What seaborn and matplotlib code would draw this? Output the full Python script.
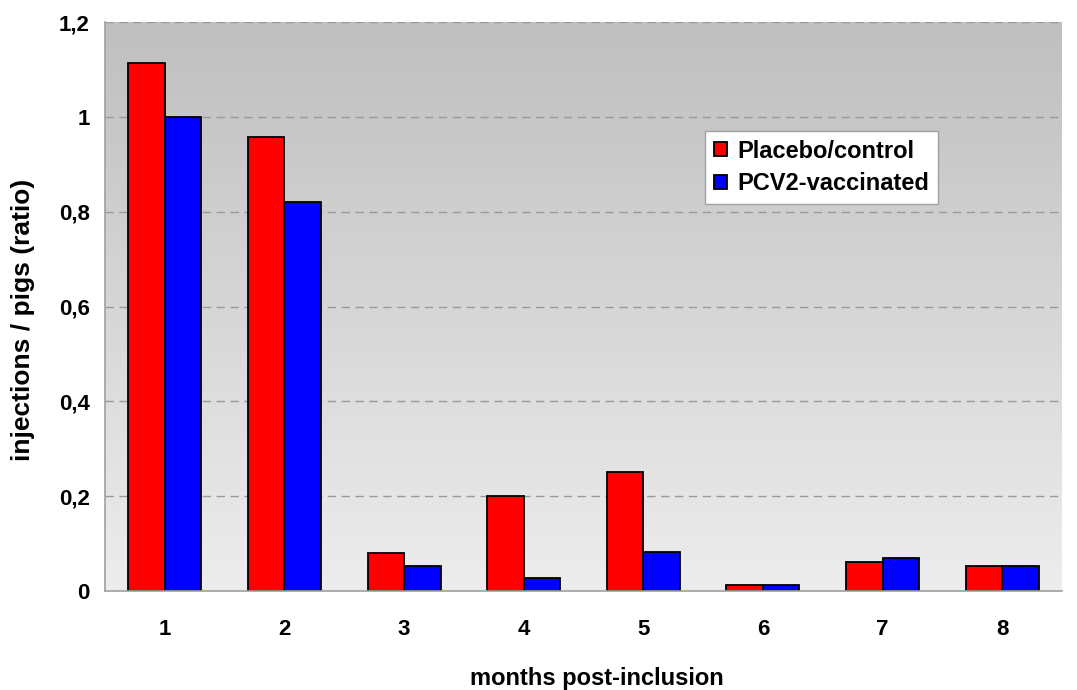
import numpy as np
import pandas as pd
import matplotlib
matplotlib.use("Agg")
import matplotlib.pyplot as plt
import seaborn as sns
from matplotlib.ticker import FixedLocator

months = ["1", "2", "3", "4", "5", "6", "7", "8"]
placebo = [1.113, 0.957, 0.080, 0.200, 0.251, 0.013, 0.061, 0.053]
vaccinated = [1.000, 0.820, 0.053, 0.027, 0.082, 0.013, 0.070, 0.053]
series_names = ["Placebo/control", "PCV2-vaccinated"]
yticks = [0, 0.2, 0.4, 0.6, 0.8, 1.0, 1.2]
ytick_labels = ["0", "0,2", "0,4", "0,6", "0,8", "1", "1,2"]

df = pd.DataFrame({
    "month": months * 2,
    "value": placebo + vaccinated,
    "group": [series_names[0]] * len(months) + [series_names[1]] * len(months),
})

sns.set_style("white")
plt.rcParams['font.family'] = ['Liberation Sans', 'DejaVu Sans']
plt.rcParams['text.color'] = 'black'
plt.rcParams['axes.labelcolor'] = 'black'
plt.rcParams['xtick.color'] = 'black'
plt.rcParams['ytick.color'] = 'black'

fig = plt.figure(figsize=(10.77, 6.90), dpi=100)
ax = fig.add_axes([0.0975, 0.1435, 0.8885, 0.8245])

# gradient background
grad = np.linspace(0, 1, 256).reshape(-1, 1)
ax.imshow(grad, extent=[0, 1, 0, 1], transform=ax.transAxes, aspect="auto",
          cmap=matplotlib.colors.LinearSegmentedColormap.from_list("g", ["#ededed", "#bfbfbf"]),
          zorder=0, origin="lower")

sns.barplot(data=df, x="month", y="value", hue="group", ax=ax,
            palette=["#ff0000", "#0000ff"], width=0.61, dodge=True,
            edgecolor="black", linewidth=1.3, saturation=1, zorder=3, legend=True)

ax.set_xlim(-0.5, len(months) - 0.5)
ax.set_ylim(0, 1.2)
ax.set_yticks(yticks)
ax.set_yticklabels(ytick_labels, fontsize=16, fontweight="bold")
ax.set_xticks(range(len(months)))
ax.set_xticklabels(months, fontsize=16, fontweight="bold")
ax.xaxis.set_minor_locator(FixedLocator(np.arange(0.5, len(months) - 0.5, 1)))
ax.tick_params(axis="x", which="major", length=0, pad=20)
ax.tick_params(axis="x", which="minor", length=7, color="#a0a0a0", width=1, direction="out")
ax.tick_params(axis="y", length=12, color="#a0a0a0", width=1, direction="inout", pad=5)

for y in yticks[1:]:
    ax.axhline(y, color="#999999", linestyle=(0, (6, 4)), linewidth=1, zorder=1)

for s in ["top", "right"]:
    ax.spines[s].set_visible(False)
for s in ["left", "bottom"]:
    ax.spines[s].set_color("#a0a0a0")
    ax.spines[s].set_linewidth(1.2)
    ax.spines[s].set_zorder(4)

ax.set_xlabel("months post-inclusion", fontsize=17, fontweight="bold")
ax.xaxis.set_label_coords(0.514, -0.134)
ax.set_ylabel("injections / pigs (ratio)", fontsize=19, fontweight="bold")
ax.yaxis.set_label_coords(-0.073, 0.476)
ax.set_facecolor("none")

leg = ax.legend(loc="upper left", bbox_to_anchor=(0.627, 0.809), frameon=True,
                fancybox=False, edgecolor="#a0a0a0", framealpha=1,
                prop={"weight": "bold", "size": 17, "family": "Liberation Sans"},
                handlelength=0.55, handleheight=0.55, handletextpad=0.45,
                borderpad=0.38, labelspacing=0.4, borderaxespad=0)
leg.get_frame().set_linewidth(1)
leg.set_zorder(5)

fig.savefig("out.png", dpi=100)
